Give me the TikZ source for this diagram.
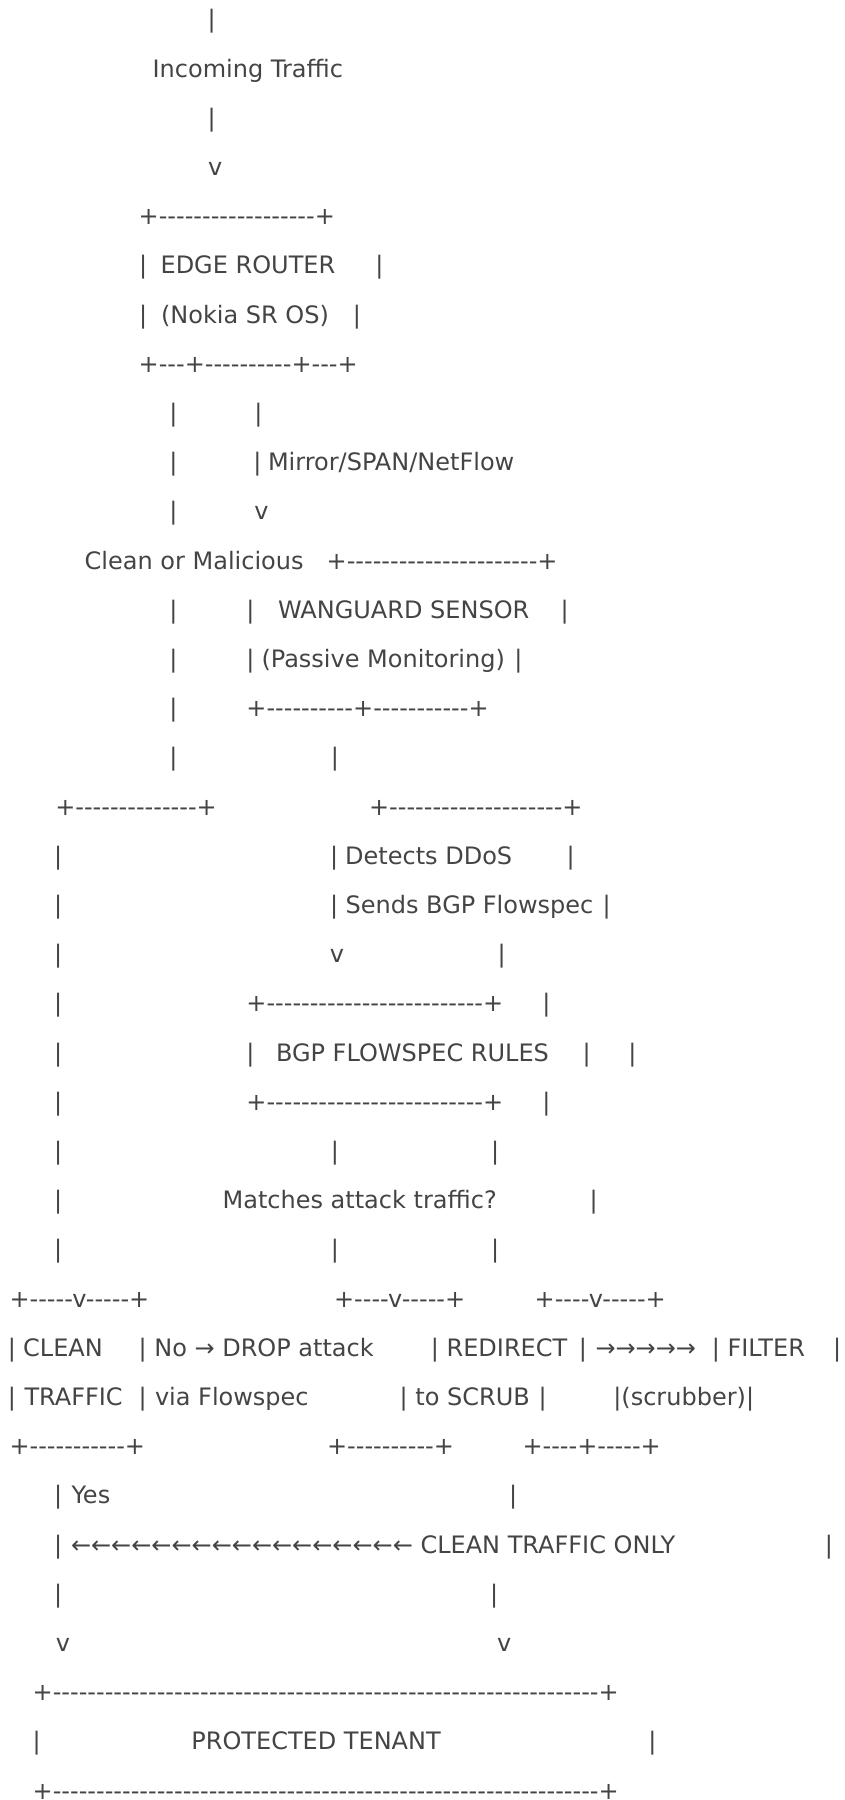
\documentclass[tikz,border=0pt]{standalone}
\usepackage{fontspec}
\usepackage{tikz}
\newfontfamily\asciifont{DejaVu Sans}
\definecolor{inkgray}{HTML}{444444}
\tikzset{
    %Define style for text rows
    row/.style={
   	anchor=base west,
   	inner sep=0pt,
   	outer sep=0pt,
   	font=\asciifont\fontsize{24}{24}\selectfont,
   	text=inkgray
   },
    % rows drawn with box characters only
    rule/.style={
   	row,
   	text depth=0pt
   }
}

\begin{document}
\begin{tikzpicture}[x=1pt,y=-49.2pt]
		\useasboundingbox (0pt,0pt) rectangle (844pt,-1800pt);
		\begin{scope}[yshift=21.4pt]
		% incoming traffic
		\node[row] (1) at (207.5,1) {|};
		\node[row] (2) at (152.6,2) {Incoming Traffic};
		\node[row] (3) at (207.5,3) {|};
		\node[row] (4) at (208.1,4) {v};
		% edge router
		\node[rule] (5) at (138.7,5) {+------------------+};
		\node[row] (6a) at (139.2,6) {|};
		\node[row] (6b) at (160.6,6) {EDGE ROUTER};
		\node[row] (6c) at (375.4,6) {|};
		\node[row] (7a) at (139.2,7) {|};
		\node[row] (7b) at (161.0,7) {(Nokia SR OS)};
		\node[row] (7c) at (352.8,7) {|};
		\node[rule] (8) at (138.7,8) {+---+----------+---+};
		\node[row] (9a) at (169.3,9) {|};
		\node[row] (9b) at (254.3,9) {|};
		\node[row] (10a) at (169.3,10) {|};
		\node[row] (10b) at (253.3,10) {|};
		\node[row] (10c) at (268.0,10) {Mirror/SPAN/NetFlow};
		\node[row] (11a) at (169.3,11) {|};
		\node[row] (11b) at (254.3,11) {v};
		% wanguard sensor
		\node[row] (12a) at (84.7,12) {Clean or Malicious};
		\node[rule] (12b) at (326.7,12) {+----------------------+};
		\node[row] (13a) at (169.3,13) {|};
		\node[row] (13b) at (246.3,13) {|};
		\node[row] (13c) at (278.0,13) {WANGUARD SENSOR};
		\node[row] (13d) at (560.6,13) {|};
		\node[row] (14a) at (169.3,14) {|};
		\node[row] (14b) at (246.3,14) {|};
		\node[row] (14c) at (261.5,14) {(Passive Monitoring)};
		\node[row] (14d) at (514.3,14) {|};
		\node[row] (15a) at (169.3,15) {|};
		\node[rule] (15b) at (246.4,15) {+----------+-----------+};
		\node[row] (16a) at (169.3,16) {|};
		\node[row] (16b) at (330.8,16) {|};
		\node[rule] (17a) at (55.3,17) {+--------------+};
		\node[rule] (17b) at (369.1,17) {+--------------------+};
		\node[row] (18a) at (54.1,18) {|};
		\node[row] (18b) at (330.2,18) {|};
		\node[row] (18c) at (345.2,18) {Detects DDoS};
		\node[row] (18d) at (566.5,18) {|};
		\node[row] (19a) at (54.1,19) {|};
		\node[row] (19b) at (330.2,19) {|};
		\node[row] (19c) at (345.6,19) {Sends BGP Flowspec};
		\node[row] (19d) at (602.6,19) {|};
		\node[row] (20a) at (54.1,20) {|};
		\node[row] (20b) at (329.8,20) {v};
		\node[row] (20c) at (497.6,20) {|};
		% flowspec rules
		\node[row] (21a) at (54.1,21) {|};
		\node[rule] (21b) at (246.4,21) {+-------------------------+};
		\node[row] (21c) at (542.3,21) {|};
		\node[row] (22a) at (54.1,22) {|};
		\node[row] (22b) at (246.3,22) {|};
		\node[row] (22c) at (276.0,22) {BGP FLOWSPEC RULES};
		\node[row] (22d) at (582.7,22) {|};
		\node[row] (22e) at (628.4,22) {|};
		\node[row] (23a) at (54.1,23) {|};
		\node[rule] (23b) at (246.4,23) {+-------------------------+};
		\node[row] (23c) at (542.3,23) {|};
		\node[row] (24a) at (54.1,24) {|};
		\node[row] (24b) at (330.8,24) {|};
		\node[row] (24c) at (491.2,24) {|};
		\node[row] (25a) at (54.1,25) {|};
		\node[row] (25b) at (222.6,25) {Matches attack traffic?};
		\node[row] (25c) at (589.6,25) {|};
		\node[row] (26a) at (54.1,26) {|};
		\node[row] (26b) at (330.8,26) {|};
		\node[row] (26c) at (491.2,26) {|};
		% clean / redirect / filter
		\node[rule] (27a) at (9.5,27) {+-----v-----+};
		\node[rule] (27b) at (334.1,27) {+----v-----+};
		\node[rule] (27c) at (534.7,27) {+----v-----+};
		\node[row] (28a) at (7.8,28) {|};
		\node[row] (28b) at (23.2,28) {CLEAN};
		\node[row] (28c) at (138.6,28) {|};
		\node[row] (28d) at (154.3,28) {No → DROP attack};
		\node[row] (28e) at (430.9,28) {|};
		\node[row] (28f) at (446.6,28) {REDIRECT};
		\node[row] (28g) at (578.9,28) {|};
		\node[row] (28h) at (595.5,28) {→→→→→};
		\node[row] (28i) at (711.8,28) {|};
		\node[row] (28j) at (727.5,28) {FILTER};
		\node[row] (28k) at (833.0,28) {|};
		\node[row] (29a) at (7.8,29) {|};
		\node[row] (29b) at (24.5,29) {TRAFFIC};
		\node[row] (29c) at (138.6,29) {|};
		\node[row] (29d) at (155.0,29) {via Flowspec};
		\node[row] (29e) at (399.6,29) {|};
		\node[row] (29f) at (415.4,29) {to SCRUB};
		\node[row] (29g) at (538.5,29) {|};
		\node[row] (29h) at (613.3,29) {|(scrubber)|};
		\node[rule] (30a) at (9.5,30) {+-----------+};
		\node[rule] (30b) at (327.1,30) {+----------+};
		\node[rule] (30c) at (522.5,30) {+----+-----+};
		% back to tenant
		\node[row] (31a) at (54.1,31) {|};
		\node[row] (31b) at (71.5,31) {Yes};
		\node[row] (31c) at (509.0,31) {|};
		\node[row] (32a) at (54.1,32) {|};
		\node[row] (32b) at (71.0,32) {←←←←←←←←←←←←←←←←← CLEAN TRAFFIC ONLY};
		\node[row] (32c) at (824.8,32) {|};
		\node[row] (33a) at (54.1,33) {|};
		\node[row] (33b) at (490.0,33) {|};
		\node[row] (34a) at (55.8,34) {v};
		\node[row] (34b) at (497.1,34) {v};
		\node[rule] (35) at (32.7,35) {+---------------------------------------------------------------+};
		\node[row] (36a) at (32.6,36) {|};
		\node[row] (36b) at (191.4,36) {PROTECTED TENANT};
		\node[row] (36c) at (648.3,36) {|};
		\node[rule] (37) at (32.7,37) {+---------------------------------------------------------------+};
		\end{scope}
		\end{tikzpicture}
\end{document}
